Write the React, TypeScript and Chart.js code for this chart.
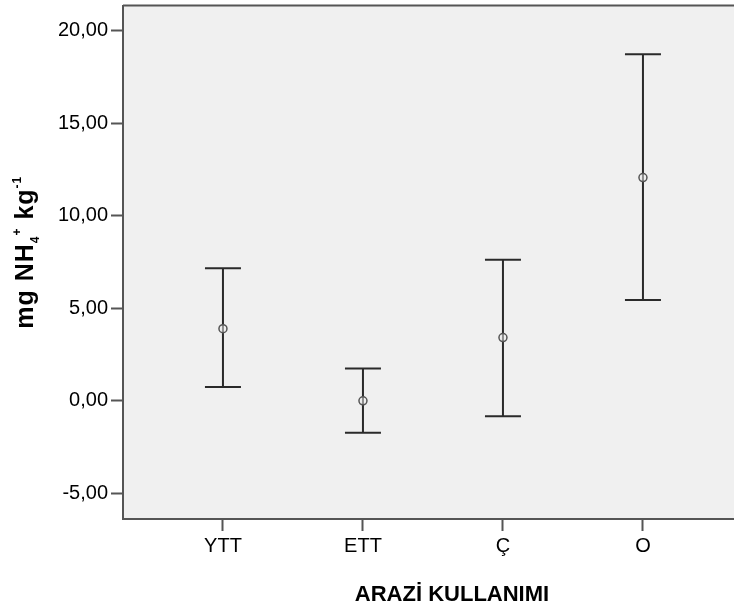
import React, { useEffect, useRef } from 'react';
import { Chart, registerables } from 'chart.js';

Chart.register(...registerables);

const categories = ['YTT', 'ETT', 'Ç', 'O'];
const means = [3.9, 0.0, 3.42, 12.07];
const upperCI = [7.16, 1.74, 7.62, 18.73];
const lowerCI = [0.74, -1.73, -0.83, 5.45];
const yTickValues = [-5, 0, 5, 10, 15, 20];
const yAxisMin = -6.39;
const yAxisMax = 21.37;
const xAxisMin = -0.714;
const xAxisMax = 3.986;
const xTitle = 'ARAZİ KULLANIMI';
const yTitleParts = [
  { text: 'mg NH', sub: 0 },
  { text: '4', sub: 1 },
  { text: '+', sub: -1 },
  { text: ' kg', sub: 0 },
  { text: '-1', sub: -1 },
];

const FONT = "'Liberation Sans', Arial, Helvetica, sans-serif";

const backgroundPlugin = {
  id: 'plotBg',
  beforeDraw(chart: any) {
    const { ctx, chartArea } = chart;
    ctx.save();
    ctx.fillStyle = '#f0f0f0';
    ctx.fillRect(chartArea.left, chartArea.top, chartArea.right - chartArea.left, chartArea.bottom - chartArea.top);
    ctx.strokeStyle = '#555';
    ctx.lineWidth = 2;
    ctx.beginPath();
    ctx.moveTo(chartArea.left, chartArea.top);
    ctx.lineTo(chartArea.right, chartArea.top);
    ctx.stroke();
    ctx.restore();
  },
};

const errorBarPlugin = {
  id: 'errorBars',
  beforeDatasetsDraw(chart: any) {
    const { ctx } = chart;
    const xs = chart.scales.x;
    const ys = chart.scales.y;
    ctx.save();
    ctx.strokeStyle = '#2a2a2a';
    ctx.lineWidth = 2;
    categories.forEach((_, i) => {
      const px = xs.getPixelForValue(i);
      const top = ys.getPixelForValue(upperCI[i]);
      const bot = ys.getPixelForValue(lowerCI[i]);
      ctx.beginPath();
      ctx.moveTo(px, top);
      ctx.lineTo(px, bot);
      ctx.moveTo(px - 18, top);
      ctx.lineTo(px + 18, top);
      ctx.moveTo(px - 18, bot);
      ctx.lineTo(px + 18, bot);
      ctx.stroke();
    });
    ctx.restore();
  },
};

const yTitlePlugin = {
  id: 'yTitleRich',
  afterDraw(chart: any) {
    const { ctx, chartArea } = chart;
    const big = 25;
    const small = 12;
    ctx.save();
    (ctx as any).letterSpacing = '1px';
    let total = 0;
    const widths = yTitleParts.map((p) => {
      ctx.font = `bold ${p.sub === 0 ? big : small}px ${FONT}`;
      const w = ctx.measureText(p.text).width;
      total += w;
      return w;
    });
    const cy = (chartArea.top + chartArea.bottom) / 2 - 10;
    ctx.translate(33, cy);
    ctx.rotate(-Math.PI / 2);
    ctx.fillStyle = '#000';
    ctx.textBaseline = 'alphabetic';
    ctx.textAlign = 'left';
    let x = -total / 2;
    yTitleParts.forEach((p, i) => {
      ctx.font = `bold ${p.sub === 0 ? big : small}px ${FONT}`;
      const dy = p.sub === 1 ? 6 : p.sub === -1 ? -12 : 0;
      ctx.fillText(p.text, x, dy);
      x += widths[i];
    });
    ctx.restore();
  },
};

export default function App() {
  const canvasRef = useRef<HTMLCanvasElement | null>(null);

  useEffect(() => {
    const canvas = canvasRef.current;
    if (!canvas) return;
    const chart = new Chart(canvas, {
      type: 'scatter',
      data: {
        datasets: [
          {
            data: means.map((m, i) => ({ x: i, y: m })),
            pointRadius: 4,
            pointHoverRadius: 4,
            borderColor: '#555',
            borderWidth: 1.5,
            backgroundColor: 'rgba(240,240,240,0.5)',
            showLine: false,
          },
        ],
      },
      options: {
        animation: false,
        responsive: false,
        devicePixelRatio: 1,
        events: [],
        layout: { padding: { top: 4, left: 0, right: 9, bottom: 0 } },
        plugins: { legend: { display: false }, tooltip: { enabled: false } },
        scales: {
          x: {
            type: 'linear',
            min: xAxisMin,
            max: xAxisMax,
            afterBuildTicks: (s: any) => {
              s.ticks = categories.map((_, i) => ({ value: i }));
            },
            afterFit: (s: any) => {
              s.height = 91;
              s.paddingLeft = 0;
              s.paddingRight = 0;
            },
            ticks: {
              autoSkip: false,
              maxRotation: 0,
              padding: 3,
              color: '#000',
              font: { family: FONT, size: 20 },
              callback: (v: any) => categories[Math.round(Number(v))] ?? '',
            },
            grid: { drawOnChartArea: false, drawTicks: true, tickLength: 12, tickColor: '#555', tickWidth: 2 },
            border: { display: true, color: '#555', width: 2 },
            title: {
              display: true,
              text: xTitle,
              color: '#000',
              font: { family: FONT, size: 22, weight: 'bold' },
              padding: { top: 0, bottom: 2 },
            },
          },
          y: {
            type: 'linear',
            min: yAxisMin,
            max: yAxisMax,
            afterBuildTicks: (s: any) => {
              s.ticks = yTickValues.map((v) => ({ value: v }));
            },
            afterFit: (s: any) => {
              s.width = 123;
              s.paddingTop = 0;
              s.paddingBottom = 0;
            },
            ticks: {
              padding: 3,
              color: '#000',
              font: { family: FONT, size: 20 },
              callback: (v: any) => Number(v).toFixed(2).replace('.', ','),
            },
            grid: { drawOnChartArea: false, drawTicks: true, tickLength: 12, tickColor: '#555', tickWidth: 2 },
            border: { display: true, color: '#555', width: 2 },
          },
        },
      },
      plugins: [backgroundPlugin, errorBarPlugin, yTitlePlugin],
    } as any);
    return () => chart.destroy();
  }, []);

  return (
    <div style={{ position: 'absolute', left: 0, top: 0, width: 734, height: 610, overflow: 'hidden', background: '#fff' }}>
      <canvas ref={canvasRef} width={790} height={610} style={{ display: 'block', width: 790, height: 610 }} />
    </div>
  );
}
